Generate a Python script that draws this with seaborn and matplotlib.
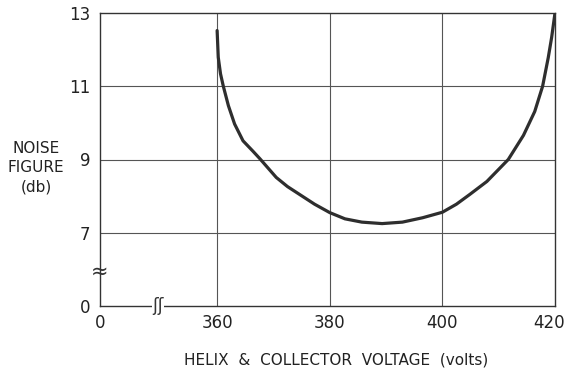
import matplotlib
matplotlib.use("Agg")
import matplotlib.pyplot as plt
from matplotlib.transforms import ScaledTranslation
import seaborn as sns
import pandas as pd

# Data
voltage = [360.0, 360.2, 360.6, 361.1, 362.0, 363.1, 364.6, 366.4, 367.6, 370.5,
           372.5, 374.8, 377.3, 380.0, 382.7, 385.7, 389.3, 392.9, 396.5, 400.0,
           402.5, 404.9, 407.9, 411.7, 414.4, 416.4, 417.8, 418.8, 419.4, 420.0]
noise_figure = [12.52, 11.79, 11.34, 11.0, 10.47, 9.97, 9.51, 9.22, 9.02, 8.51,
                8.26, 8.03, 7.78, 7.55, 7.38, 7.29, 7.25, 7.29, 7.41, 7.56,
                7.78, 8.05, 8.4, 9.0, 9.66, 10.31, 11.0, 11.78, 12.33, 13.0]

# Broken axes: the "0" label stands one grid step before the first real tick
x_tick_pos = [339.2, 360, 380, 400, 420]
x_tick_labels = ["0", "360", "380", "400", "420"]
y_tick_pos = [5, 7, 9, 11, 13]
y_tick_labels = ["0", "7", "9", "11", "13"]

sns.set_style("white")
plt.rcParams["font.family"] = ["DejaVu Sans"]

fig = plt.figure(figsize=(5.66, 3.74), dpi=100)
ax = fig.add_axes([100 / 566, 1 - 306 / 374, 455 / 566, 293 / 374])

df = pd.DataFrame({"voltage": voltage, "nf": noise_figure})
sns.lineplot(data=df, x="voltage", y="nf", ax=ax, color="#2e2e2e",
             linewidth=2.3, zorder=3)

ax.set_xlim(339.2, 420)
ax.set_ylim(5, 13)
ax.set_xticks(x_tick_pos)
ax.set_xticklabels(x_tick_labels)
ax.set_yticks(y_tick_pos)
ax.set_yticklabels(y_tick_labels)
ax.tick_params(axis="both", length=0, labelsize=12, colors="#222222")
ax.tick_params(axis="x", pad=6)
ax.tick_params(axis="y", pad=7)

# shift the last x label a little left so it stays inside the figure
last = ax.get_xticklabels()[-1]
last.set_transform(last.get_transform() +
                   ScaledTranslation(-6 / 100, 0, fig.dpi_scale_trans))

# grid: vertical at 360..400, horizontal at 7..11 (edges are spines)
for xv in [360, 380, 400]:
    ax.axvline(xv, color="#555555", linewidth=0.8, zorder=1)
for yv in [7, 9, 11]:
    ax.axhline(yv, color="#555555", linewidth=0.8, zorder=1)

for s in ax.spines.values():
    s.set_visible(True)
    s.set_color("#333333")
    s.set_linewidth(1.0)

ax.set_xlabel("")
ax.set_ylabel("")

fig.text(36 / 566, 1 - 168 / 374, "NOISE\nFIGURE\n(db)", ha="center",
         va="center", fontsize=11, linespacing=1.35, color="#222222")
fig.text(336 / 566, 1 - 360 / 374, "HELIX  &  COLLECTOR  VOLTAGE  (volts)",
         ha="center", va="center", fontsize=11, color="#222222")

# axis break marks
ax.text(58 / 455, 0.0, "ʃʃ", transform=ax.transAxes, ha="center", va="center",
        fontsize=12, color="#333333",
        bbox=dict(facecolor="white", edgecolor="none", pad=0.5))
ax.text(0.0, 34 / 293, "≈", transform=ax.transAxes, ha="center", va="center",
        fontsize=15, color="#333333", clip_on=False)

fig.savefig("out.png", dpi=100, facecolor="white")
